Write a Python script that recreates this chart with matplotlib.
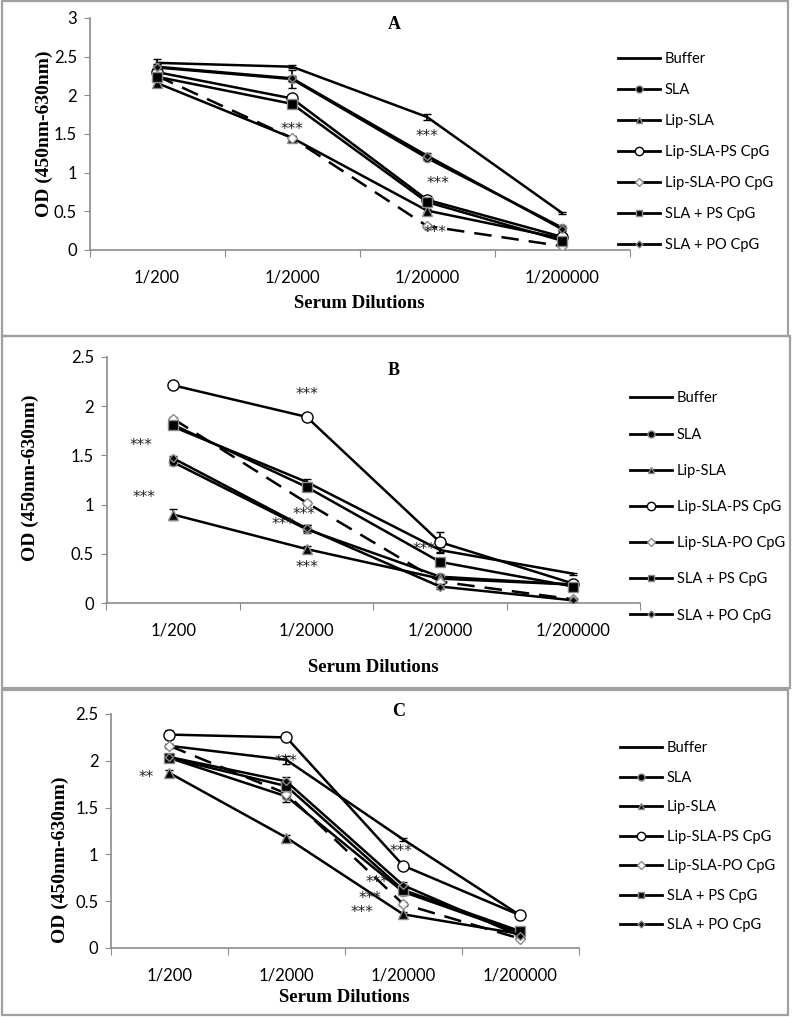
import matplotlib
matplotlib.use("Agg")
import matplotlib.pyplot as plt
from matplotlib.lines import Line2D
from matplotlib.patches import Rectangle

# ---------------- data ----------------
dilutions = ["1/200", "1/2000", "1/20000", "1/200000"]
groups = ["Buffer", "SLA", "Lip-SLA", "Lip-SLA-PS CpG", "Lip-SLA-PO CpG",
          "SLA + PS CpG", "SLA + PO CpG"]

# Panel A (OD values per group, order as in `groups`)
a_od = [
    [2.42, 2.37, 1.72, 0.48],
    [2.36, 2.21, 1.19, 0.29],
    [2.16, 1.45, 0.51, 0.15],
    [2.30, 1.96, 0.65, 0.17],
    [2.25, 1.45, 0.31, 0.05],
    [2.24, 1.89, 0.62, 0.12],
    [2.37, 2.22, 1.22, 0.27],
]
a_err = [
    [0.05, 0.02, 0.04, 0.01],
    [0.03, 0.12, 0.03, 0.02],
    [0.02, 0.02, 0.02, 0.01],
    [0.02, 0.02, 0.02, 0.01],
    [0.02, 0.02, 0.02, 0.01],
    [0.02, 0.02, 0.02, 0.01],
    [0.03, 0.03, 0.03, 0.02],
]
a_stars = [(1.0, 1.56, "***"), (2.0, 1.47, "***"), (2.08, 0.86, "***"), (2.06, 0.22, "***")]

# Panel B
b_od = [
    [1.79, 1.23, 0.54, 0.30],
    [1.43, 0.75, 0.27, 0.19],
    [0.90, 0.55, 0.25, 0.19],
    [2.21, 1.89, 0.62, 0.20],
    [1.87, 1.02, 0.22, 0.04],
    [1.81, 1.18, 0.42, 0.17],
    [1.47, 0.76, 0.17, 0.03],
]
b_err = [
    [0.02, 0.03, 0.03, 0.01],
    [0.03, 0.04, 0.03, 0.02],
    [0.06, 0.03, 0.02, 0.02],
    [0.03, 0.02, 0.10, 0.02],
    [0.02, 0.02, 0.02, 0.01],
    [0.02, 0.03, 0.03, 0.02],
    [0.02, 0.03, 0.03, 0.01],
]
b_stars = [(-0.24, 1.60, "***"), (-0.22, 1.07, "***"), (1.0, 2.12, "***"),
           (0.98, 0.90, "***"), (0.82, 0.80, "***"), (1.0, 0.36, "***"),
           (1.88, 0.55, "***")]

# Panel C
c_od = [
    [2.16, 2.01, 1.16, 0.35],
    [2.03, 1.62, 0.60, 0.16],
    [1.87, 1.18, 0.36, 0.15],
    [2.28, 2.25, 0.88, 0.35],
    [2.16, 1.65, 0.47, 0.10],
    [2.03, 1.73, 0.62, 0.18],
    [2.04, 1.78, 0.67, 0.13],
]
c_err = [
    [0.02, 0.04, 0.02, 0.01],
    [0.03, 0.06, 0.03, 0.02],
    [0.03, 0.03, 0.02, 0.01],
    [0.05, 0.02, 0.02, 0.01],
    [0.02, 0.03, 0.02, 0.01],
    [0.03, 0.05, 0.03, 0.02],
    [0.03, 0.05, 0.03, 0.01],
]
c_stars = [(-0.2, 1.82, "**"), (1.0, 1.99, "***"), (1.98, 1.03, "***"),
           (1.78, 0.70, "***"), (1.72, 0.53, "***"), (1.65, 0.38, "***")]

# ---------------- styling ----------------
SANS = ["Lato", "DejaVu Sans"]
SERIF = ["Liberation Serif", "DejaVu Serif"]
GRAY = "#8c8c8c"

styles = [
    dict(marker="None", ls="-"),
    dict(marker="o", mfc="black", mec=GRAY, ms=6, ls="-"),
    dict(marker="^", mfc="black", mec=GRAY, ms=6.5, ls="-"),
    dict(marker="o", mfc="white", mec="black", ms=8, ls="-"),
    dict(marker="D", mfc="white", mec=GRAY, ms=5.5, ls=(0, (7, 4))),
    dict(marker="s", mfc="black", mec=GRAY, ms=6.5, ls="-"),
    dict(marker="D", mfc="black", mec=GRAY, ms=4.5, ls="-"),
]
legend_styles = [
    dict(marker="None"),
    dict(marker="o", mfc="black", mec=GRAY, ms=5),
    dict(marker="^", mfc="black", mec=GRAY, ms=5),
    dict(marker="o", mfc="white", mec="black", ms=6),
    dict(marker="D", mfc="white", mec=GRAY, ms=4),
    dict(marker="s", mfc="black", mec=GRAY, ms=5),
    dict(marker="D", mfc="black", mec=GRAY, ms=3.5),
]

W, H = 792, 1017
fig = plt.figure(figsize=(W / 100, H / 100), dpi=100)


def px_rect(x0, y0, x1, y1):
    return [x0 / W, 1 - y1 / H, (x1 - x0) / W, (y1 - y0) / H]


# panel borders
for (x0, y0, x1, y1) in [(2, 1, 788, 336), (2, 336, 790, 688), (2, 690, 788, 1015)]:
    fig.patches.append(Rectangle((x0 / W, 1 - y1 / H), (x1 - x0) / W, (y1 - y0) / H,
                                 transform=fig.transFigure, fill=False,
                                 edgecolor="#a0a0a0", lw=1.6))

panels = [
    dict(od=a_od, err=a_err, stars=a_stars, title="A", ymax=3.0,
         rect=px_rect(89.5, 18, 629.5, 250), legend=(618, 52, 30.2),
         xlabel_y=303, ylabel_xy=(44, 134), title_xy=(1.76, 2.91)),
    dict(od=b_od, err=b_err, stars=b_stars, title="B", ymax=2.5,
         rect=px_rect(106.5, 356.7, 640, 603.3), legend=(630, 391.5, 35.3),
         xlabel_y=668, ylabel_xy=(30, 478), title_xy=(1.65, 2.36)),
    dict(od=c_od, err=c_err, stars=c_stars, title="C", ymax=2.5,
         rect=px_rect(111, 714, 578.5, 948), legend=(620, 741.5, 28.6),
         xlabel_y=997, ylabel_xy=(60, 860), title_xy=(1.96, 2.53)),
]

xs = list(range(len(dilutions)))
TICK_FS = 12
LEG_FS = 10.5

for p in panels:
    ax = fig.add_axes(p["rect"])
    for i, g in enumerate(groups):
        st = styles[i]
        ax.errorbar(xs, p["od"][i], yerr=p["err"][i], color="black", lw=1.8,
                    ls=st["ls"], marker=st["marker"],
                    mfc=st.get("mfc", "black"), mec=st.get("mec", "black"),
                    ms=st.get("ms", 6), mew=1.0, elinewidth=1.2, capsize=3,
                    ecolor="black", zorder=3 + i)
    ax.set_xlim(-0.5, len(dilutions) - 0.5)
    ax.set_ylim(0, p["ymax"])
    nt = int(round(p["ymax"] / 0.5)) + 1
    ax.set_yticks([v * 0.5 for v in range(nt)])
    ax.set_yticklabels([("%g" % (v * 0.5)) for v in range(nt)],
                       fontfamily=SANS, fontsize=TICK_FS)
    ax.set_xticks([b - 0.5 for b in range(len(dilutions) + 1)])
    ax.set_xticklabels([])
    ax.set_xticks(xs, minor=True)
    ax.set_xticklabels(dilutions, minor=True, fontfamily=SANS, fontsize=TICK_FS)
    ax.tick_params(axis="x", which="major", direction="out", length=5, color=GRAY)
    ax.tick_params(axis="x", which="minor", length=0, pad=14)
    ax.tick_params(axis="y", direction="out", length=4, color=GRAY, pad=5)
    for s in ["top", "right"]:
        ax.spines[s].set_visible(False)
    for s in ["left", "bottom"]:
        ax.spines[s].set_color(GRAY)
        ax.spines[s].set_linewidth(1.2)
    ax.text(p["title_xy"][0], p["title_xy"][1], p["title"], fontfamily=SERIF,
            fontweight="bold", fontsize=13, ha="center", va="center", clip_on=False)
    for (sx, sy, t) in p["stars"]:
        ax.text(sx, sy, t, fontfamily=["DejaVu Sans"], fontsize=11, ha="center",
                va="center", color="#222222", zorder=20)
    fig.text(p["ylabel_xy"][0] / W, 1 - p["ylabel_xy"][1] / H, "OD (450nm-630nm)",
             rotation=90, fontfamily=SERIF, fontweight="bold", fontsize=14,
             ha="center", va="center")
    r = p["rect"]
    fig.text(r[0] + r[2] / 2, 1 - p["xlabel_y"] / H, "Serum Dilutions",
             fontfamily=SERIF, fontweight="bold", fontsize=13.5, ha="center", va="center")
    lx, ly, sp = p["legend"]
    handles = [Line2D([0], [0], color="black", lw=2, **legend_styles[i])
               for i in range(len(groups))]
    fs_px = LEG_FS * 100 / 72
    fig.legend(handles, groups, loc="upper left",
               bbox_to_anchor=(lx / W, 1 - ly / H), bbox_transform=fig.transFigure,
               frameon=False, prop={"family": SANS, "size": LEG_FS},
               handlelength=2.9, handletextpad=0.3, borderpad=0, borderaxespad=0,
               labelspacing=(sp - fs_px * 0.9) / fs_px)

fig.savefig("out.png", dpi=100)
